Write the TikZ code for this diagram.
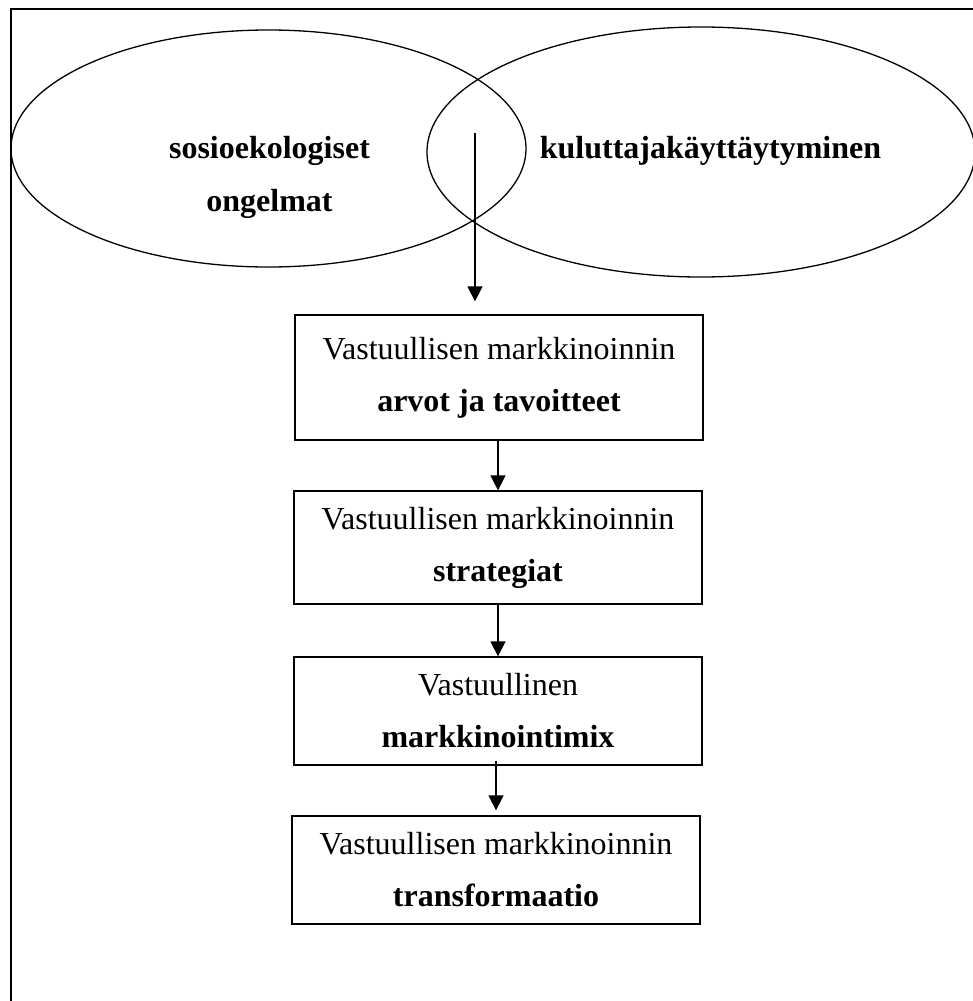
\documentclass[tikz,border=0pt]{standalone}
\usepackage{fontspec}
\setmainfont{Liberation Serif}
\usetikzlibrary{arrows.meta}
\begin{document}
\begin{tikzpicture}[x=1pt,y=-1pt,
  txt/.style={font=\fontsize{32}{52}\selectfont, inner sep=0pt},
  stagebox/.style={draw, line width=1.3pt, minimum width=408pt, align=center,
    font=\fontsize{32}{52}\selectfont, inner sep=0pt},
  flow/.style={line width=1.5pt, -{Triangle[width=15pt,length=15pt]}}]
\useasboundingbox (0,0) rectangle (973,1001);
\clip (0,0) rectangle (973,1001);
% frame
\draw[line width=2pt] (11,1010) -- (11,9) -- (990,9);
% ellipses
\draw[line width=1.3pt] (268.5,148.5) ellipse [x radius=257.5, y radius=118.5];
\draw[line width=1.3pt] (701,152) ellipse [x radius=274, y radius=125];
\node[txt, anchor=base, font=\fontsize{32}{52}\selectfont\bfseries] (soc1) at (269.5,158) {sosioekologiset};
\node[txt, anchor=base, font=\fontsize{32}{52}\selectfont\bfseries] (soc2) at (269.5,211) {ongelmat};
\node[txt, anchor=base, font=\fontsize{32}{52}\selectfont\bfseries] (cons) at (710.5,158) {kuluttajakäyttäytyminen};
% boxes
\node[stagebox, minimum height=125pt] (b1) at (499,377.5) {Vastuullisen markkinoinnin\\\textbf{arvot ja tavoitteet}};
\node[stagebox, minimum height=113pt] (b2) at (498,547.5) {Vastuullisen markkinoinnin\\\textbf{strategiat}};
\node[stagebox, minimum height=108pt] (b3) at (498,711) {Vastuullinen\\\textbf{markkinointimix}};
\node[stagebox, minimum height=108pt] (b4) at (496,870) {Vastuullisen markkinoinnin\\\textbf{transformaatio}};
% arrows
\coordinate (start) at (475,133);
\draw[flow, shorten >=13pt] (start) -- (start |- b1.north);
\draw[flow] (b2.north |- b1.south) -- (b2.north);
\draw[flow] (b2.south) -- (b3.north);
\draw[flow, shorten <=-5pt, shorten >=5pt] ([xshift=-2pt]b3.south) -- ([xshift=-2pt]b3.south |- b4.north);
\end{tikzpicture}
\end{document}
